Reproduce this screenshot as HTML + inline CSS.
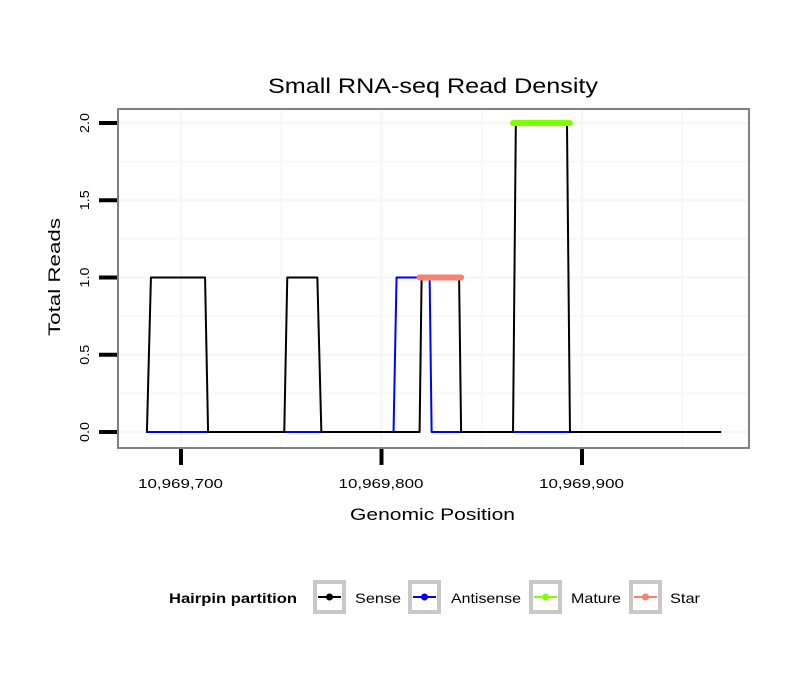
<!DOCTYPE html>
<html><head><meta charset="utf-8"><style>
body{margin:0;background:#fff}
text{font-family:"Liberation Sans",sans-serif}
</style></head><body>
<svg id="chart" width="810" height="690" xmlns="http://www.w3.org/2000/svg">
<rect width="810" height="690" fill="#fff"/>
<text x="268" y="93" font-size="21" textLength="330" lengthAdjust="spacingAndGlyphs">Small RNA-seq Read Density</text>
<g id="grid"></g>
<g id="series"></g>
<rect x="118" y="109" width="631" height="339" fill="none" stroke="#808080" stroke-width="2"/>
<g id="axes"></g>
<text x="350" y="520" font-size="17" textLength="165" lengthAdjust="spacingAndGlyphs">Genomic Position</text>
<text transform="translate(60,336) rotate(-90)" font-size="17" textLength="118" lengthAdjust="spacingAndGlyphs">Total Reads</text>
<g>
<text x="169" y="603" font-size="14" font-weight="bold" textLength="128" lengthAdjust="spacingAndGlyphs">Hairpin partition</text>
<g id="legend"></g>
</g>
</svg>
<script>
const xTicks=[10969700,10969800,10969900];
const xTickLabels=["10,969,700","10,969,800","10,969,900"];
const yTicks=[0,0.5,1,1.5,2];
const yTickLabels=["0.0","0.5","1.0","1.5","2.0"];
const senseX=[10969683,10969685,10969712,10969713.5,10969751.5,10969753,10969768,10969770,10969819,10969820,10969838.7,10969839.7,10969865.6,10969867,10969892.5,10969894,10969969];
const senseLevel=[0,1,1,0,0,1,1,0,0,1,1,0,0,2,2,0,0];
const antiX=[10969683,10969806,10969807.5,10969824,10969825,10969969];
const antiY=[0,0,1,1,0,0];
const matureX=[10969865.6,10969894];
const matureY=[2,2];
const starX=[10969819,10969839.7];
const starY=[1,1];
const legendLabels=["Sense","Antisense","Mature","Star"];
const legendColors=["#000","#0000ff","#7fff00","#fa8072"];

const NS="http://www.w3.org/2000/svg";
const xs=v=>181+(v-10969700)*2.005;
const ys=v=>432-v*154.5;
function mk(tag,attrs,parent){const e=document.createElementNS(NS,tag);for(const k in attrs)e.setAttribute(k,attrs[k]);parent.appendChild(e);return e;}
const grid=document.getElementById('grid'),ser=document.getElementById('series'),ax=document.getElementById('axes'),lg=document.getElementById('legend');
for(let v=0;v<=2.0001;v+=0.25){const l=mk('line',{x1:118,x2:749,y1:ys(v),y2:ys(v),stroke:'#f7f7f7','stroke-width':v%0.5?1.5:2.5},grid);

}
for(let v=10969650;v<=10969950;v+=50){const px=xs(v);if(px<118||px>749)continue;const l=mk('line',{x1:px,x2:px,y1:109,y2:448,stroke:'#f7f7f7','stroke-width':(v%100)?1.5:2.5},grid);

}
function path(xa,ya,col,w,name){const d=xa.map((x,i)=>(i?'L':'M')+xs(x)+','+ys(ya[i])).join('');const p=mk('path',{d:d,fill:'none',stroke:col,'stroke-width':w,'stroke-linecap':'round','stroke-linejoin':'round'},ser);

}
path(antiX,antiY,'#0000ff',2,'antisense-line');
path(senseX,senseLevel,'#000',2,'sense-line');
path(starX,starY,'#fa8072',6,'star-segment');
path(matureX,matureY,'#7fff00',6,'mature-segment');
yTicks.forEach((v,i)=>{const t=mk('line',{x1:99,x2:117,y1:ys(v),y2:ys(v),stroke:'#000','stroke-width':4},ax);


const tx=mk('text',{transform:`translate(89,${ys(v)}) rotate(-90)`,'font-size':13,'text-anchor':'middle',textLength:20,lengthAdjust:'spacingAndGlyphs'},ax);tx.textContent=yTickLabels[i];

});
xTicks.forEach((v,i)=>{const t=mk('line',{x1:xs(v),x2:xs(v),y1:449,y2:465,stroke:'#000','stroke-width':4},ax);


const tx=mk('text',{x:xs(v)-43,y:488,'font-size':13,textLength:85,lengthAdjust:'spacingAndGlyphs'},ax);tx.textContent=xTickLabels[i];

});
const lx=[313,408,529,629];
const tl=[355,451,571,670];
const tw=[46,70,50,30];
legendLabels.forEach((lab,i)=>{const g=mk('g',{},lg);


mk('rect',{x:lx[i]+2,y:582,width:29,height:30,fill:'#fff',stroke:'#c8c8c8','stroke-width':4},g);
mk('line',{x1:lx[i]+5,x2:lx[i]+28,y1:597,y2:597,stroke:legendColors[i],'stroke-width':2},g);
mk('circle',{cx:lx[i]+16.5,cy:597,r:3.5,fill:legendColors[i]},g);
const t=mk('text',{x:tl[i],y:603,'font-size':14,textLength:tw[i],lengthAdjust:'spacingAndGlyphs'},g);t.textContent=lab;});
</script>
</body></html>
